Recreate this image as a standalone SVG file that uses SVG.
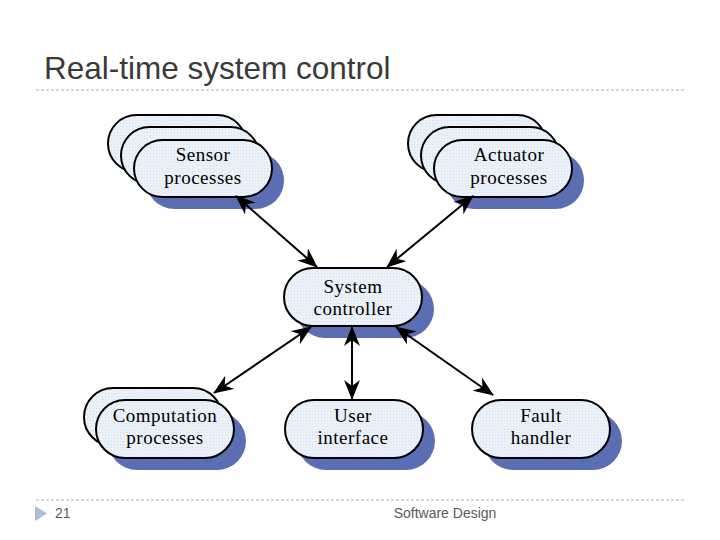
<svg xmlns="http://www.w3.org/2000/svg" width="720" height="540" viewBox="0 0 720 540">
<defs>
<pattern id="dots" width="3" height="3" patternUnits="userSpaceOnUse">
<rect width="3" height="3" fill="#eaf1f9"/>
<rect width="1" height="1" fill="#d5e1ee"/>
</pattern>
<marker id="ah" viewBox="0 0 20 16" refX="19" refY="8" markerWidth="20" markerHeight="16" markerUnits="userSpaceOnUse" orient="auto-start-reverse">
<path d="M0,0 L20,8 L0,16 L6,8 z" fill="#000"/>
</marker>
</defs>
<style>
.box{fill:url(#dots);stroke:#000;stroke-width:2}
.shadow{fill:#5b6db3}
.lbl{font-family:"Liberation Serif","Times New Roman",serif;font-size:19px;letter-spacing:0.5px;fill:#000;text-anchor:middle}
.conn{stroke:#000;stroke-width:2;fill:none;marker-start:url(#ah);marker-end:url(#ah)}
.rule{stroke:#b0b0b0;stroke-width:1;stroke-dasharray:3,2}
.foot{font-family:"Liberation Sans",Arial,sans-serif;font-size:14px;fill:#5a5a5a}
</style>
<rect width="720" height="540" fill="#fff"/>
<text x="44" y="79" font-family="Liberation Sans, Arial, sans-serif" font-size="31.5" fill="#3a3a3a">Real-time system control</text>
<line class="rule" x1="36" y1="90" x2="686" y2="90"/>
<line class="rule" x1="36" y1="500" x2="686" y2="500"/>
<polygon points="35,506 47,513.5 35,521" fill="#a9bfd8"/>
<text class="foot" x="55" y="518">21</text>
<text class="foot" x="445" y="518" text-anchor="middle">Software Design</text>

<g id="sensor">
<rect class="box" x="108" y="115" width="138" height="57" rx="28.5"/>
<rect class="box" x="121" y="127" width="138" height="57" rx="28.5"/>
<rect class="shadow" x="146" y="152" width="138" height="57" rx="28.5"/>
<rect class="box" x="134" y="140" width="138" height="57" rx="28.5"/>
<text class="lbl" x="203" y="161">Sensor</text>
<text class="lbl" x="203" y="184">processes</text>
</g>
<g id="actuator">
<rect class="box" x="408" y="115" width="138" height="57" rx="28.5"/>
<rect class="box" x="421" y="127" width="138" height="57" rx="28.5"/>
<rect class="shadow" x="446" y="152" width="138" height="57" rx="28.5"/>
<rect class="box" x="434" y="140" width="138" height="57" rx="28.5"/>
<text class="lbl" x="509" y="161">Actuator</text>
<text class="lbl" x="509" y="184">processes</text>
</g>
<g id="system">
<rect class="shadow" x="296" y="280" width="138" height="58" rx="29"/>
<rect class="box" x="284" y="268" width="138" height="58" rx="29"/>
<text class="lbl" x="353" y="293">System</text>
<text class="lbl" x="353" y="315">controller</text>
</g>
<g id="computation">
<rect class="box" x="84" y="388" width="138" height="58" rx="29"/>
<rect class="shadow" x="108" y="412" width="138" height="58" rx="29"/>
<rect class="box" x="96" y="400" width="138" height="58" rx="29"/>
<text class="lbl" x="165" y="422">Computation</text>
<text class="lbl" x="165" y="444">processes</text>
</g>
<g id="user">
<rect class="shadow" x="297" y="412" width="138" height="58" rx="29"/>
<rect class="box" x="285" y="400" width="138" height="58" rx="29"/>
<text class="lbl" x="353" y="422">User</text>
<text class="lbl" x="353" y="444">interface</text>
</g>
<g id="fault">
<rect class="shadow" x="484" y="412" width="138" height="58" rx="29"/>
<rect class="box" x="472" y="400" width="138" height="58" rx="29"/>
<text class="lbl" x="541" y="422">Fault</text>
<text class="lbl" x="541" y="444">handler</text>
</g>
<g id="connectors">
<line class="conn" x1="236" y1="196" x2="317" y2="267"/>
<line class="conn" x1="473" y1="196" x2="387" y2="267"/>
<line class="conn" x1="311" y1="327" x2="214" y2="393"/>
<line class="conn" x1="352" y1="327" x2="352" y2="399"/>
<line class="conn" x1="396" y1="327" x2="493" y2="395"/>
</g>
</svg>
